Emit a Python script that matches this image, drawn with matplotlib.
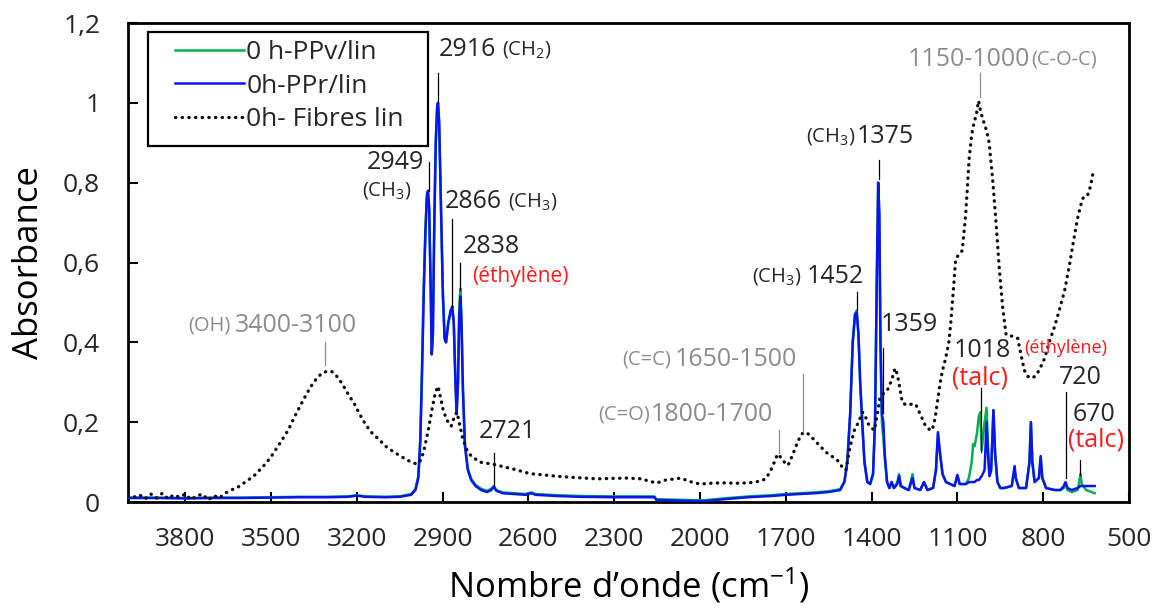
import matplotlib
matplotlib.use("Agg")
import matplotlib.pyplot as plt
from matplotlib.patches import Rectangle

FONT = 'Open Sans'
plt.rcParams['font.family'] = [FONT, 'DejaVu Sans']
plt.rcParams['mathtext.fontset'] = 'custom'
plt.rcParams['mathtext.rm'] = FONT
plt.rcParams['mathtext.it'] = FONT
plt.rcParams['mathtext.default'] = 'regular'

# ---------------- data ----------------
wn_pp = [4000, 3900, 3800, 3700, 3600, 3500, 3400, 3300, 3230, 3200, 3170, 3100, 3050, 3010,
         2995, 2985, 2978, 2972, 2966, 2960, 2955, 2951, 2947, 2942, 2938, 2934, 2929, 2924,
         2919, 2916, 2912, 2906, 2899, 2893, 2888, 2880, 2872, 2866, 2861, 2855, 2851, 2846,
         2842, 2838, 2834, 2829, 2822, 2812, 2800, 2785, 2765, 2745, 2730, 2721, 2712, 2690,
         2650, 2610, 2590, 2575, 2500, 2420, 2300, 2160, 2152, 2050, 1990, 1900, 1830, 1750,
         1700, 1650, 1600, 1550, 1510, 1495, 1485, 1475, 1466, 1458, 1452, 1446, 1440, 1432,
         1425, 1415, 1405, 1395, 1388, 1382, 1377, 1373, 1369, 1364, 1359, 1354, 1346, 1338,
         1330, 1322, 1310, 1304, 1298, 1285, 1270, 1257, 1250, 1230, 1217, 1205, 1185, 1175,
         1168, 1162, 1152, 1140, 1125, 1110, 1100, 1092, 1070, 1060, 1050, 1045, 1040, 1032,
         1025, 1020, 1015, 1005, 998, 993, 988, 982, 974, 968, 960, 950, 937, 910, 900, 896,
         885, 860, 848, 843, 838, 830, 815, 809, 803, 790, 760, 740, 728, 722, 715, 700,
         680, 674, 670, 665, 650, 620]
abs_ppr = [0.010, 0.010, 0.009, 0.010, 0.010, 0.011, 0.012, 0.012, 0.013, 0.016, 0.013, 0.012, 0.013, 0.018,
           0.03, 0.06, 0.15, 0.32, 0.52, 0.68, 0.77, 0.78, 0.74, 0.55, 0.37, 0.42, 0.70, 0.90,
           0.99, 1.00, 0.95, 0.75, 0.52, 0.41, 0.40, 0.45, 0.48, 0.49, 0.45, 0.30, 0.22, 0.30,
           0.46, 0.515, 0.45, 0.28, 0.14, 0.08, 0.055, 0.04, 0.03, 0.025, 0.03, 0.038, 0.028, 0.022,
           0.02, 0.018, 0.022, 0.018, 0.015, 0.013, 0.012, 0.012, 0.005, 0.003, 0.002, 0.008, 0.012, 0.015,
           0.018, 0.02, 0.022, 0.025, 0.03, 0.05, 0.10, 0.22, 0.40, 0.47, 0.475, 0.42, 0.30, 0.19,
           0.10, 0.05, 0.045, 0.07, 0.2, 0.55, 0.80, 0.72, 0.40, 0.22, 0.20, 0.12, 0.05, 0.035,
           0.05, 0.035, 0.045, 0.065, 0.04, 0.035, 0.03, 0.06, 0.035, 0.03, 0.05, 0.03, 0.035, 0.08,
           0.175, 0.13, 0.07, 0.05, 0.045, 0.04, 0.068, 0.045, 0.045, 0.05, 0.05, 0.05, 0.05, 0.055,
           0.055, 0.06, 0.065, 0.08, 0.20, 0.12, 0.065, 0.08, 0.23, 0.12, 0.05, 0.035, 0.035, 0.04, 0.09, 0.06,
           0.035, 0.035, 0.10, 0.20, 0.10, 0.05, 0.06, 0.115, 0.06, 0.035, 0.03, 0.03, 0.04, 0.05, 0.035, 0.03,
           0.035, 0.038, 0.04, 0.04, 0.04, 0.04]
abs_ppv = [0.011, 0.011, 0.010, 0.011, 0.011, 0.012, 0.013, 0.013, 0.014, 0.017, 0.014, 0.013, 0.014, 0.02,
           0.032, 0.065, 0.16, 0.34, 0.54, 0.68, 0.76, 0.77, 0.73, 0.55, 0.37, 0.42, 0.70, 0.90,
           0.99, 1.00, 0.95, 0.75, 0.52, 0.41, 0.40, 0.45, 0.47, 0.48, 0.45, 0.30, 0.22, 0.31,
           0.48, 0.535, 0.46, 0.29, 0.15, 0.085, 0.058, 0.043, 0.033, 0.028, 0.033, 0.04, 0.03, 0.024,
           0.022, 0.02, 0.024, 0.02, 0.017, 0.015, 0.014, 0.014, 0.007, 0.005, 0.004, 0.01, 0.014, 0.017,
           0.02, 0.022, 0.024, 0.027, 0.032, 0.052, 0.10, 0.22, 0.40, 0.47, 0.48, 0.42, 0.30, 0.19,
           0.10, 0.05, 0.045, 0.07, 0.2, 0.55, 0.80, 0.72, 0.40, 0.20, 0.16, 0.11, 0.05, 0.035,
           0.05, 0.035, 0.05, 0.07, 0.04, 0.035, 0.03, 0.07, 0.035, 0.03, 0.05, 0.03, 0.035, 0.08,
           0.17, 0.13, 0.07, 0.05, 0.045, 0.04, 0.065, 0.045, 0.045, 0.06, 0.10, 0.145, 0.14, 0.17,
           0.215, 0.225, 0.13, 0.20, 0.236, 0.14, 0.065, 0.08, 0.23, 0.12, 0.05, 0.035, 0.035, 0.04, 0.085, 0.06,
           0.035, 0.035, 0.10, 0.20, 0.10, 0.05, 0.06, 0.11, 0.06, 0.035, 0.03, 0.03, 0.035, 0.045, 0.03, 0.025,
           0.03, 0.05, 0.07, 0.045, 0.03, 0.022]

wn_lin = [4000, 3980, 3960, 3940, 3920, 3900, 3880, 3860, 3840, 3820, 3800, 3780, 3760, 3740, 3720,
          3700, 3680, 3660, 3640, 3620, 3600, 3580, 3560, 3540, 3520, 3500, 3480, 3460, 3440, 3420,
          3400, 3380, 3360, 3340, 3320, 3300, 3285, 3270, 3250, 3230, 3210, 3190, 3170, 3150, 3120,
          3100, 3070, 3040, 3010, 2990, 2976, 2965, 2950, 2935, 2925, 2916, 2908, 2898, 2885, 2870,
          2858, 2850, 2842, 2830, 2815, 2800, 2770, 2720, 2650, 2594, 2476, 2359, 2260, 2200, 2180,
          2150, 2120, 2065, 2040, 2000, 1960, 1924, 1870, 1829, 1790, 1771, 1755, 1740, 1729, 1715,
          1705, 1692, 1675, 1659, 1645, 1635, 1620, 1600, 1580, 1560, 1540, 1520, 1500, 1490, 1475,
          1460, 1446, 1432, 1425, 1412, 1400, 1390, 1380, 1371, 1355, 1345, 1330, 1318, 1310, 1300,
          1293, 1280, 1260, 1246, 1230, 1211, 1195, 1188, 1178, 1170, 1160, 1152, 1141, 1130, 1123,
          1112, 1106, 1094, 1083, 1071, 1059, 1050, 1042, 1034, 1026, 1018, 1007, 998, 989, 977,
          966, 954, 942, 930, 918, 907, 889, 878, 866, 854, 842, 828, 814, 795, 779,
          760, 744, 725, 709, 695, 680, 670, 662, 650, 644, 635, 627]
abs_lin = [0.015, 0.012, 0.018, 0.008, 0.02, 0.01, 0.022, 0.008, 0.018, 0.012, 0.02, 0.006, 0.015, 0.02, 0.005,
           0.016, 0.01, 0.022, 0.03, 0.035, 0.045, 0.055, 0.065, 0.08, 0.095, 0.113, 0.135, 0.157, 0.18, 0.21,
           0.238, 0.265, 0.29, 0.31, 0.324, 0.328, 0.326, 0.315, 0.295, 0.27, 0.248, 0.22, 0.195, 0.175, 0.155,
           0.14, 0.125, 0.112, 0.10, 0.095, 0.105, 0.13, 0.18, 0.24, 0.275, 0.29, 0.265, 0.23, 0.205, 0.19,
           0.215, 0.225, 0.20, 0.16, 0.13, 0.115, 0.10, 0.094, 0.082, 0.071, 0.063, 0.058, 0.06, 0.058, 0.052,
           0.048, 0.055, 0.06, 0.052, 0.045, 0.047, 0.048, 0.047, 0.048, 0.052, 0.058, 0.075, 0.10, 0.12, 0.11,
           0.10, 0.092, 0.12, 0.15, 0.17, 0.175, 0.17, 0.155, 0.14, 0.125, 0.115, 0.105, 0.085, 0.08, 0.14,
           0.18, 0.20, 0.225, 0.22, 0.196, 0.185, 0.18, 0.22, 0.26, 0.275, 0.28, 0.305, 0.335, 0.32, 0.28,
           0.25, 0.243, 0.245, 0.245, 0.22, 0.19, 0.18, 0.18, 0.21, 0.25, 0.30, 0.33, 0.36, 0.40, 0.45,
           0.55, 0.61, 0.62, 0.63, 0.72, 0.86, 0.92, 0.95, 0.97, 1.005, 0.976, 0.95, 0.93, 0.90, 0.81,
           0.71, 0.59, 0.49, 0.42, 0.415, 0.416, 0.41, 0.37, 0.33, 0.315, 0.31, 0.315, 0.33, 0.36, 0.40,
           0.44, 0.48, 0.53, 0.59, 0.65, 0.71, 0.74, 0.76, 0.77, 0.77, 0.79, 0.82]

series_labels = ["0 h-PPv/lin", "0h-PPr/lin", "0h- Fibres lin"]
x_ticks = [3800, 3500, 3200, 2900, 2600, 2300, 2000, 1700, 1400, 1100, 800, 500]
y_ticks = [0, 0.2, 0.4, 0.6, 0.8, 1.0, 1.2]
y_ticklabels = ["0", "0,2", "0,4", "0,6", "0,8", "1", "1,2"]

# ---------------- figure ----------------
W, H = 1152, 613
L, R, T, B = 128, 1129, 23, 502
fig = plt.figure(figsize=(W/100, H/100), dpi=100)
ax = fig.add_axes([L/W, 1-B/H, (R-L)/W, (B-T)/H])
AW, AH = R-L, B-T

GREEN = '#00B050'
BLUE = '#0A14F0'
TXT = '#262626'
GRAY = '#8C8C8C'
RED = '#FF1A1A'

l1, = ax.plot(wn_pp, abs_ppv, color=GREEN, lw=1.8, label=series_labels[0], zorder=2)
l2, = ax.plot(wn_pp, abs_ppr, color=BLUE, lw=1.8, label=series_labels[1], zorder=3)
l3, = ax.plot(wn_lin, abs_lin, color='#111111', lw=2.4, linestyle=(0, (0.1, 1.9)),
              dash_capstyle='round', label=series_labels[2], zorder=4)

ax.set_xlim(4000, 500)
ax.set_ylim(0, 1.2)
ax.set_xticks(x_ticks)
ax.set_yticks(y_ticks)
ax.set_yticklabels(y_ticklabels)
ax.tick_params(axis='both', direction='in', length=7, width=1.5, labelsize=19,
               colors='black', labelcolor=TXT)
ax.tick_params(axis='x', pad=18)
ax.tick_params(axis='y', pad=20)
for s in ax.spines.values():
    s.set_linewidth(2)
    s.set_color('black')

ax.set_xlabel("Nombre d\u2019onde (cm$^{-1}$)", fontsize=25, color='black', labelpad=10)
ax.set_ylabel("Absorbance", fontsize=25, color='black', labelpad=12)

# legend (frame drawn as a rectangle so that padding matches)
leg = ax.legend(handles=[l1, l2, l3], loc='upper left',
                bbox_to_anchor=((175-L)/AW, (B-40)/AH),
                borderaxespad=0, borderpad=0, fontsize=19, frameon=False,
                handlelength=2.6, handletextpad=0.1, labelspacing=0.33)
for t in leg.get_texts():
    t.set_color(TXT)
ax.add_patch(Rectangle(((148-L)/AW, (B-146)/AH), 280/AW, 114/AH,
                       transform=ax.transAxes, fill=False, edgecolor='black',
                       lw=1.6, zorder=7))

def vline(x, y0, y1, color='black', lw=0.9):
    ax.plot([x, x], [y0, y1], color=color, lw=lw, zorder=5)

def txt(x, y, s, size=18, color=TXT, ha='left'):
    return ax.text(x, y, s, fontsize=size, color=color, ha=ha, va='center', zorder=6)

def after(t, y, s, size=14.5, color=TXT, gap=3):
    ax.annotate(s, xy=(1, y), xycoords=(t, 'data'), xytext=(gap, 0),
                textcoords='offset points', fontsize=size, color=color,
                ha='left', va='center', zorder=6)

def before(t, y, s, size=14.5, color=TXT, gap=3):
    ax.annotate(s, xy=(0, y), xycoords=(t, 'data'), xytext=(-gap, 0),
                textcoords='offset points', fontsize=size, color=color,
                ha='right', va='center', zorder=6)

# 2916
t = txt(2912, 1.133, "2916")
after(t, 1.133, "(CH$_2$)", gap=4)
vline(2916, 1.075, 1.005)
# 2949
txt(2963, 0.85, "2949", ha='right')
txt(3010, 0.78, "(CH$_3$)", size=14.5, ha='right')
vline(2949, 0.852, 0.78)
# 2866
t = txt(2892, 0.754, "2866")
after(t, 0.754, "(CH$_3$)", gap=4)
vline(2866, 0.71, 0.49)
# 2838
txt(2828, 0.64, "2838")
txt(2798, 0.565, "(éthylène)", size=15, color=RED)
vline(2838, 0.60, 0.53)
# 2721
txt(2772, 0.176, "2721")
vline(2721, 0.123, 0.04)
# OH
t = txt(3627, 0.443, "3400-3100", color=GRAY)
before(t, 0.443, "(OH)", color=GRAY, gap=3)
vline(3312, 0.40, 0.343, color=GRAY)
# C=O
t = txt(2174, 0.218, "1800-1700", color=GRAY)
before(t, 0.218, "(C=O)", color=GRAY, gap=0.5)
vline(1725, 0.18, 0.123, color=GRAY)
# C=C
t = txt(2087, 0.356, "1650-1500", color=GRAY)
before(t, 0.356, "(C=C)", color=GRAY, gap=3)
vline(1640, 0.32, 0.175, color=GRAY)
# 1452
t = txt(1626, 0.564, "1452")
before(t, 0.564, "(CH$_3$)", gap=4)
vline(1452, 0.526, 0.48)
# 1375
t = txt(1453, 0.915, "1375")
before(t, 0.915, "(CH$_3$)", gap=0.5)
vline(1375, 0.857, 0.81)
# 1359
txt(1367, 0.444, "1359")
vline(1359, 0.386, 0.223)
# 1018
txt(1113, 0.38, "1018")
txt(1120, 0.31, "(talc)", size=18, color=RED)
vline(1018, 0.286, 0.125)
# ethylene near 720
txt(865, 0.386, "(éthylène)", size=13, color=RED)
# 720
txt(746, 0.313, "720")
vline(720, 0.276, 0.06)
# 670
txt(698, 0.218, "670")
txt(715, 0.155, "(talc)", size=18, color=RED)
vline(670, 0.105, 0.068)
# C-O-C
t = txt(1273, 1.108, "1150-1000", color=GRAY)
after(t, 1.108, "(C-O-C)", color=GRAY, gap=0.5)
vline(1020, 1.075, 1.015, color=GRAY)

fig.savefig("out.png", dpi=100)
